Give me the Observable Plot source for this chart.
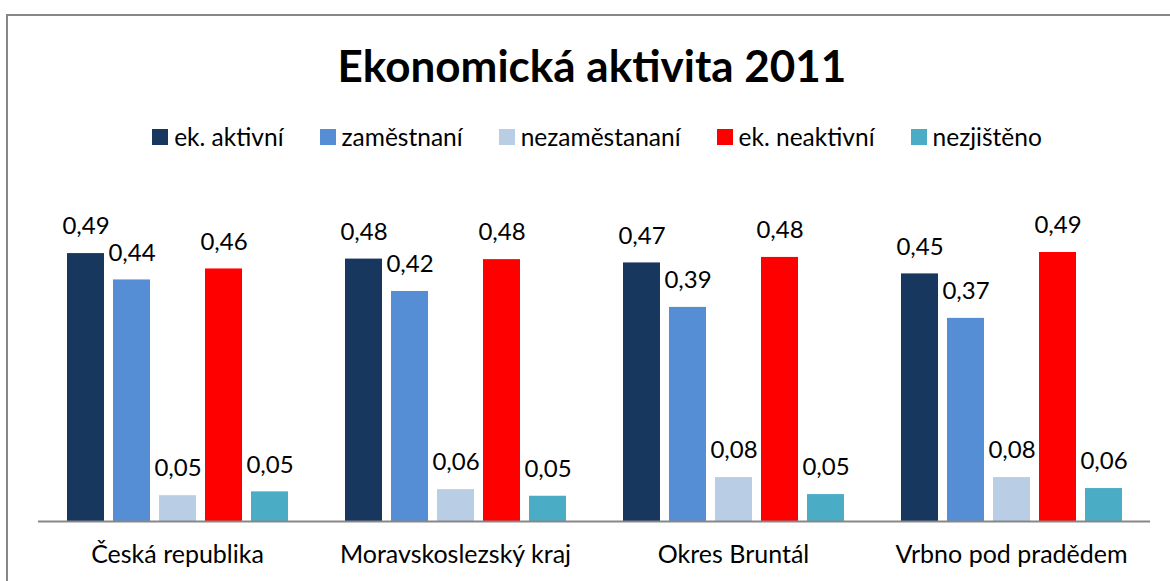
<!DOCTYPE html>
<html>
<head>
<meta charset="utf-8">
<script src="https://cdn.jsdelivr.net/npm/d3@7"></script>
<script src="https://cdn.jsdelivr.net/npm/@observablehq/plot@0.6"></script>
<style>
  body { margin: 0; background: #fff; font-family: Lato, "Open Sans", sans-serif; color: #000; }
  #wrap { position: relative; width: 1170px; height: 581px; overflow: hidden; background: #fff; }
  #frame { position: absolute; left: 6px; top: 14px; width: 1300px; height: 700px; border: 2px solid #878787; }
  #title { position: absolute; left: 0; width: 1184px; top: 38px; text-align: center; font-weight: bold; font-size: 44px; line-height: 54px; }
  #legend { position: absolute; left: 0; width: 1194px; top: 123px; display: flex; justify-content: center; gap: 36px; font-size: 24.5px; line-height: 28px; }
  .item { display: flex; align-items: center; white-space: nowrap; }
  .sw { width: 16px; height: 16px; margin-right: 6px; display: inline-block; }
  #chart { position: absolute; left: 0; top: 160px; }
</style>
</head>
<body>
<div id="wrap">
  <div id="frame"></div>
  <div id="title">Ekonomická aktivita 2011</div>
  <div id="legend"></div>
  <div id="chart"></div>
</div>
<script>
const categories = ["Česká republika", "Moravskoslezský kraj", "Okres Bruntál", "Vrbno pod pradědem"];
const series = ["ek. aktivní", "zaměstnaní", "nezaměstananí", "ek. neaktivní", "nezjištěno"];
const ekAktivni    = [0.488, 0.478, 0.471, 0.451];
const zamestnani   = [0.440, 0.419, 0.390, 0.370];
const nezamestnani = [0.047, 0.058, 0.080, 0.080];
const ekNeaktivni  = [0.460, 0.477, 0.481, 0.490];
const nezjisteno   = [0.054, 0.046, 0.049, 0.060];
const colors = ["#17375E", "#558ED5", "#B9CDE5", "#FF0000", "#4BACC6"];

const seriesValues = [ekAktivni, zamestnani, nezamestnani, ekNeaktivni, nezjisteno];
const rows = [];
categories.forEach((c, i) => {
  series.forEach((s, j) => rows.push({category: c, series: s, value: seriesValues[j][i]}));
});
const fmt = v => d3.format(".2f")(v).replace(".", ",");

// legend
const legend = document.getElementById("legend");
series.forEach((s, j) => {
  const it = document.createElement("div");
  it.className = "item";
  const sw = document.createElement("span");
  sw.className = "sw";
  sw.style.background = colors[j];
  const tx = document.createElement("span");
  tx.textContent = s;
  it.appendChild(sw); it.appendChild(tx);
  legend.appendChild(it);
});

const chart = Plot.plot({
  width: 1170,
  height: 421,
  marginTop: 31.6,
  marginBottom: 60,
  marginLeft: 37,
  marginRight: 20,
  style: {fontFamily: "Lato, 'Open Sans', sans-serif", fontSize: "25px", color: "#000", background: "transparent", overflow: "visible"},
  facet: {data: rows, x: "category"},
  fx: {domain: categories, padding: 0, label: null, axis: "bottom", tickSize: 0, tickPadding: 24},
  x: {domain: series, paddingInner: 0.204, paddingOuter: 0.59, axis: null},
  y: {domain: [0, 0.6], axis: null},
  color: {domain: series, range: colors},
  marks: [
    Plot.barY(rows, {x: "series", y: "value", fill: "series"}),
    Plot.text(rows, {x: "series", y: "value", text: d => fmt(d.value), dy: -27, fontSize: 24, fill: "#000"}),
    Plot.ruleY([0], {stroke: "#878787", strokeWidth: 2})
  ]
});
document.getElementById("chart").appendChild(chart);
</script>
</body>
</html>
